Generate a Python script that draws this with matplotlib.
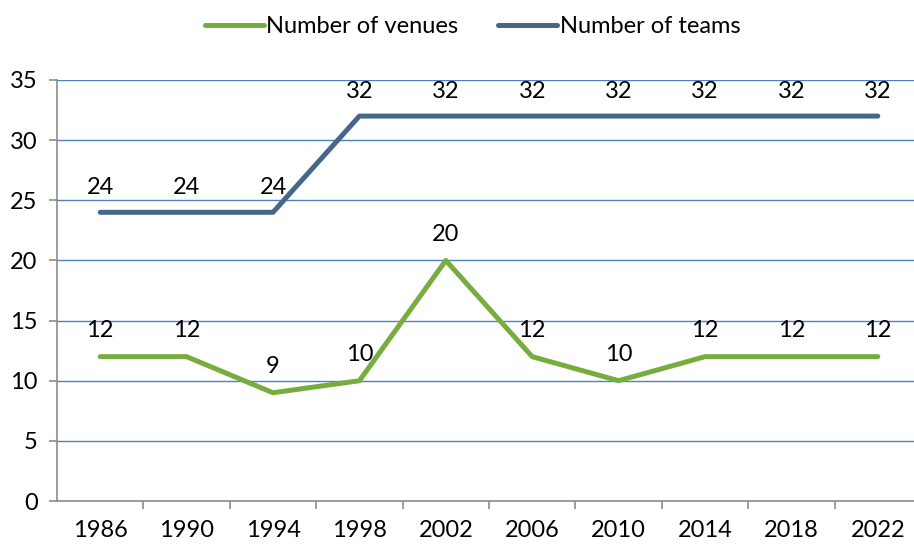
import matplotlib.pyplot as plt

plt.rcParams["font.family"] = ["Lato", "DejaVu Sans"]

years = ["1986", "1990", "1994", "1998", "2002", "2006", "2010", "2014", "2018", "2022"]
venues = [12, 12, 9, 10, 20, 12, 10, 12, 12, 12]
teams = [24, 24, 24, 32, 32, 32, 32, 32, 32, 32]

green = "#77AD3F"
blue = "#44678A"
axis_grey = "#8C8C8C"
fs = 17

fig = plt.figure(figsize=(9.14, 5.44), dpi=100)
ax = fig.add_axes([57 / 914, 1 - 501 / 544, 864 / 914, 421 / 544])

x = range(len(years))
ax.plot(x, venues, color=green, lw=3.6, solid_capstyle="round", label="Number of venues")
ax.plot(x, teams, color=blue, lw=3.6, solid_capstyle="round", label="Number of teams")

# data labels above each point
for i, v in enumerate(venues):
    ax.annotate(str(v), (i, v), xytext=(0, 19), textcoords="offset points",
                ha="center", va="center", fontsize=fs)
for i, v in enumerate(teams):
    ax.annotate(str(v), (i, v), xytext=(0, 18), textcoords="offset points",
                ha="center", va="center", fontsize=fs)

ax.set_xlim(-0.5, 9.5)
ax.set_ylim(0, 35)
ax.set_yticks(range(0, 36, 5))
ax.set_xticks(list(x))
ax.set_xticklabels(years)
ax.set_xticks([i - 0.5 for i in range(1, 10)], minor=True)
ax.tick_params(axis="x", which="major", length=0, pad=14, labelsize=fs)
ax.tick_params(axis="x", which="minor", length=6, color=axis_grey, width=1.2)
ax.tick_params(axis="y", length=6, color=axis_grey, width=1.2, pad=8, labelsize=fs)

ax.grid(axis="y", color="#4F81BD", lw=1)
ax.set_axisbelow(True)
for s in ["top", "right"]:
    ax.spines[s].set_visible(False)
for s in ["left", "bottom"]:
    ax.spines[s].set_color(axis_grey)
    ax.spines[s].set_linewidth(1.2)

fig.legend(loc="upper center", bbox_to_anchor=(0.517, 1.01), ncol=2, frameon=False,
           fontsize=fs, handlelength=2.5, handletextpad=0.1, columnspacing=1.7)

fig.savefig("out.png", dpi=100)
